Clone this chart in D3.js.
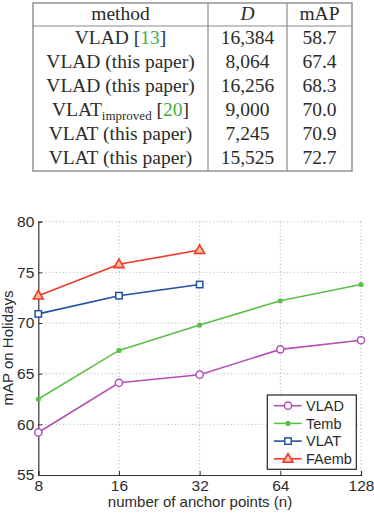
<!DOCTYPE html>
<html>
<head>
<meta charset="utf-8">
<script src="https://cdn.jsdelivr.net/npm/d3@7"></script>
<style>
  body { margin: 0; background: #fff; }
  svg { display: block; }
</style>
</head>
<body>
<div id="chart"></div>
<script>
// Tamaño de la figura
const width = 374;
const height = 514;

// Datos de la tabla
const tableHeader = ["method", "D", "mAP"];
const tableMethods = ["VLAD", "VLAD", "VLAD", "VLAT", "VLAT", "VLAT"];
const tableNotes = ["[13]", "(this paper)", "(this paper)", "[20]", "(this paper)", "(this paper)"];
const tableDims = ["16,384", "8,064", "16,256", "9,000", "7,245", "15,525"];
const tableMap = ["58.7", "67.4", "68.3", "70.0", "70.9", "72.7"];

// Datos de la gráfica
const anchors = [8, 16, 32, 64, 128];
const vladValues = [59.2, 64.1, 64.9, 67.4, 68.3];
const tembValues = [62.5, 67.3, 69.8, 72.2, 73.8];
const vlatValues = [70.9, 72.7, 73.8];
const faembValues = [72.7, 75.8, 77.2];
const yTicks = [55, 60, 65, 70, 75, 80];

const series = [
  { name: "VLAD", values: vladValues, color: "#b54fb8", marker: "circle" },
  { name: "Temb", values: tembValues, color: "#5cbf47", marker: "dot" },
  { name: "VLAT", values: vlatValues, color: "#2150a3", marker: "square" },
  { name: "FAemb", values: faembValues, color: "#ef3a25", marker: "triangle" }
];

const svg = d3.select("#chart").append("svg")
  .attr("width", width)
  .attr("height", height);

// ---- Tabla ----
const tLeft = 33, tRight = 352, tTop = 3, tHead = 26, tBottom = 171;
const colLines = [208, 287];
const colCenters = [120.5, 247.5, 319.5];
const lineColor = "#8a8a8a";
const textColor = "#2b2b2b";

const tbl = svg.append("g").attr("font-family", "'Liberation Serif', 'Times New Roman', serif")
  .attr("font-size", 19.5).attr("fill", textColor).attr("text-anchor", "middle");

tbl.append("rect")
  .attr("x", tLeft).attr("y", tTop)
  .attr("width", tRight - tLeft).attr("height", tBottom - tTop)
  .attr("fill", "none").attr("stroke", lineColor).attr("stroke-width", 1.4);
tbl.append("line").attr("x1", tLeft).attr("x2", tRight).attr("y1", tHead).attr("y2", tHead)
  .attr("stroke", lineColor).attr("stroke-width", 1.2);
tbl.selectAll("line.col").data(colLines).enter().append("line")
  .attr("class", "col")
  .attr("x1", d => d).attr("x2", d => d).attr("y1", tTop).attr("y2", tBottom)
  .attr("stroke", lineColor).attr("stroke-width", 1.2);

tbl.selectAll("text.head").data(tableHeader).enter().append("text")
  .attr("class", "head")
  .attr("x", (d, i) => colCenters[i]).attr("y", 19.5)
  .attr("font-style", (d, i) => i === 1 ? "italic" : "normal")
  .text(d => d);

const rowY = i => 44 + i * 24;

tableMethods.forEach((m, i) => {
  const t = tbl.append("text").attr("x", colCenters[0]).attr("y", rowY(i));
  t.append("tspan").text(m);
  if (i === 3) {
    t.append("tspan").attr("font-size", 13).attr("dy", 4).text("improved");
    t.append("tspan").attr("dy", -4).text(" ");
  } else {
    t.append("tspan").text(" ");
  }
  const note = tableNotes[i];
  if (note.startsWith("[")) {
    t.append("tspan").text("[");
    t.append("tspan").attr("fill", "#3fae3f").text(note.slice(1, -1));
    t.append("tspan").text("]");
  } else {
    t.append("tspan").text(note);
  }
});

tbl.selectAll("text.dim").data(tableDims).enter().append("text")
  .attr("class", "dim")
  .attr("x", colCenters[1]).attr("y", (d, i) => rowY(i)).text(d => d);
tbl.selectAll("text.map").data(tableMap).enter().append("text")
  .attr("class", "map")
  .attr("x", colCenters[2]).attr("y", (d, i) => rowY(i)).text(d => d);

// ---- Gráfica ----
const x = d3.scaleLog().base(2).domain([8, 128]).range([38.3, 361]);
const y = d3.scaleLinear().domain([55, 80]).range([475, 221.7]);

const plot = svg.append("g").attr("font-family", "'Liberation Sans', Arial, sans-serif");

// Rejilla punteada
plot.selectAll("line.gx").data(anchors.slice(1)).enter().append("line")
  .attr("class", "gx")
  .attr("x1", d => x(d)).attr("x2", d => x(d)).attr("y1", y(55)).attr("y2", y(80))
  .attr("stroke", "#9a9a9a").attr("stroke-width", 0.8).attr("stroke-dasharray", "1,2.5");
plot.selectAll("line.gy").data(yTicks.slice(1)).enter().append("line")
  .attr("class", "gy")
  .attr("x1", x(8)).attr("x2", x(128)).attr("y1", d => y(d)).attr("y2", d => y(d))
  .attr("stroke", "#9a9a9a").attr("stroke-width", 0.8).attr("stroke-dasharray", "1,2.5");

// Ejes
const xAxis = d3.axisBottom(x).tickValues(anchors).tickFormat(d3.format("d")).tickSize(-4).tickPadding(5);
const yAxis = d3.axisLeft(y).tickValues(yTicks).tickSize(-4).tickPadding(4);

const gx = plot.append("g").attr("transform", `translate(0,${y(55)})`).call(xAxis);
const gy = plot.append("g").attr("transform", `translate(${x(8)},0)`).call(yAxis);
[gx, gy].forEach(g => {
  g.select(".domain").attr("stroke", "#333").attr("stroke-width", 1.2);
  g.selectAll(".tick line").attr("stroke", "#333");
  g.selectAll(".tick text").attr("fill", "#2b2b2b").attr("font-size", 15.5)
    .attr("font-family", "'Liberation Sans', Arial, sans-serif");
});

// Etiquetas de los ejes
plot.append("text")
  .attr("x", 200).attr("y", 506.5)
  .attr("text-anchor", "middle").attr("font-size", 15).attr("fill", "#2b2b2b")
  .text("number of anchor points (n)");
plot.append("text")
  .attr("transform", `translate(13,348) rotate(-90)`)
  .attr("text-anchor", "middle").attr("font-size", 15).attr("fill", "#2b2b2b")
  .text("mAP on Holidays");

const line = d3.line().x(d => x(d[0])).y(d => y(d[1]));

function drawMarker(g, type, color, cx, cy) {
  if (type === "circle") {
    g.append("circle").attr("cx", cx).attr("cy", cy).attr("r", 3.6)
      .attr("fill", "#fff").attr("stroke", color).attr("stroke-width", 1.5);
  } else if (type === "dot") {
    g.append("circle").attr("cx", cx).attr("cy", cy).attr("r", 2.6).attr("fill", color);
  } else if (type === "square") {
    g.append("rect").attr("x", cx - 3.2).attr("y", cy - 3.2).attr("width", 6.4).attr("height", 6.4)
      .attr("fill", "#fff").attr("stroke", color).attr("stroke-width", 1.5);
  } else {
    g.append("path").attr("transform", `translate(${cx},${cy})`)
      .attr("d", "M0,-5.2L5,3.4L-5,3.4Z")
      .attr("fill", "#fbb9a8").attr("stroke", color).attr("stroke-width", 1.6);
  }
}

series.forEach(s => {
  const pts = s.values.map((v, i) => [anchors[i], v]);
  const g = plot.append("g");
  g.append("path").datum(pts).attr("d", line)
    .attr("fill", "none").attr("stroke", s.color).attr("stroke-width", 1.6);
  pts.forEach(p => drawMarker(g, s.marker, s.color, x(p[0]), y(p[1])));
});

// Leyenda
const legend = plot.append("g");
legend.append("rect")
  .attr("x", 267.3).attr("y", 395).attr("width", 89).attr("height", 74.3)
  .attr("fill", "#fff").attr("stroke", "#222").attr("stroke-width", 1.2);
series.forEach((s, i) => {
  const ly = 405.7 + i * 17.7;
  const g = legend.append("g");
  g.append("line").attr("x1", 274).attr("x2", 301.7).attr("y1", ly).attr("y2", ly)
    .attr("stroke", s.color).attr("stroke-width", 1.6);
  drawMarker(g, s.marker, s.color, 288, ly);
  g.append("text").attr("x", 306).attr("y", ly + 5.2)
    .attr("font-size", 14.5).attr("fill", "#2b2b2b").text(s.name);
});
</script>
</body>
</html>
